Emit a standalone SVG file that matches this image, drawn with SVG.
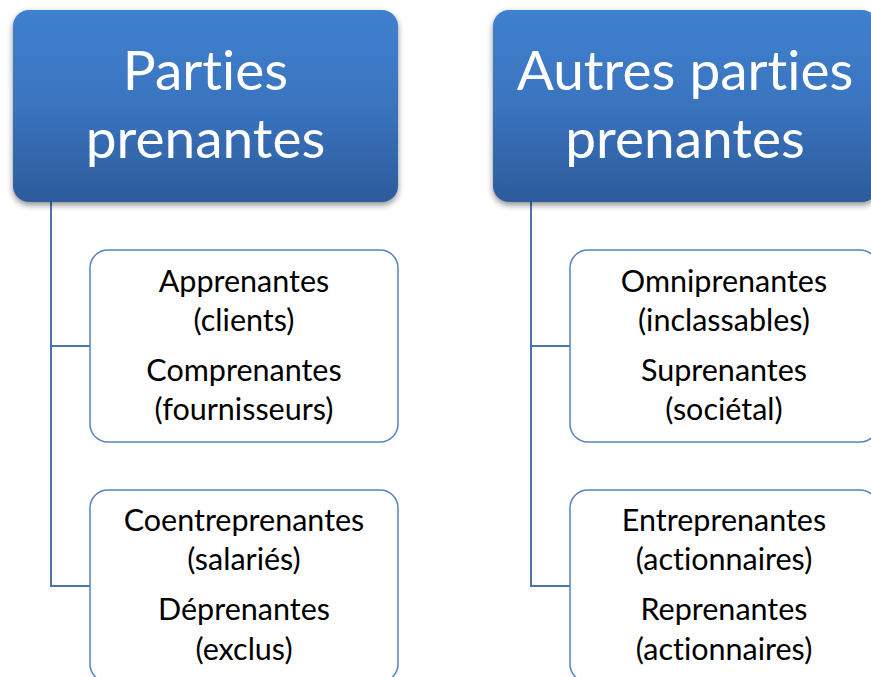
<svg xmlns="http://www.w3.org/2000/svg" width="871" height="677" viewBox="0 0 871 677">
<defs>
<linearGradient id="hg" x1="0" y1="0" x2="0" y2="1">
<stop offset="0" stop-color="#3f80ce"/>
<stop offset="0.5" stop-color="#3a74bf"/>
<stop offset="1" stop-color="#2d5b9b"/>
</linearGradient>
<filter id="sh" x="-10%" y="-10%" width="120%" height="125%">
<feGaussianBlur in="SourceAlpha" stdDeviation="3"/>
<feOffset dx="0" dy="3" result="b"/>
<feComponentTransfer><feFuncA type="linear" slope="0.45"/></feComponentTransfer>
<feMerge><feMergeNode/><feMergeNode in="SourceGraphic"/></feMerge>
</filter>
<style>
text{font-variant-ligatures:none;font-feature-settings:"liga" 0,"clig" 0}
.hdr{fill:url(#hg);filter:url(#sh)}
.ht{font-family:Lato,"Open Sans",sans-serif;font-size:55px;fill:#fff;text-anchor:middle}
.box{fill:#fff;stroke:#5482c0;stroke-width:1.5}
.bt{font-family:Lato,"Open Sans",sans-serif;font-size:30.5px;fill:#000;text-anchor:middle}
.con{fill:none;stroke:#4a74b0;stroke-width:2}
</style>
</defs>
<g id="connectors">
<path class="con" d="M51 202 V586 H90 M51 346 H90"/>
<path class="con" d="M531 202 V586 H570 M531 346 H570"/>
</g>
<g id="h1">
<rect class="hdr" x="13" y="10" width="385" height="192" rx="16"/>
<text class="ht" x="205.5" y="90">Parties</text>
<text class="ht" x="205.5" y="158">prenantes</text>
</g>
<g id="h2">
<rect class="hdr" x="493" y="10" width="385" height="192" rx="16"/>
<text class="ht" x="685" y="90">Autres parties</text>
<text class="ht" x="685" y="158">prenantes</text>
</g>
<g id="b1">
<rect class="box" x="90" y="250" width="308" height="192" rx="18"/>
<text class="bt" x="244" y="292">Apprenantes</text>
<text class="bt" x="244" y="331">(clients)</text>
<text class="bt" x="244" y="381">Comprenantes</text>
<text class="bt" x="244" y="420">(fournisseurs)</text>
</g>
<g id="b2">
<rect class="box" x="90" y="490" width="308" height="192" rx="18"/>
<text class="bt" x="244" y="531">Coentreprenantes</text>
<text class="bt" x="244" y="570">(salariés)</text>
<text class="bt" x="244" y="620">Déprenantes</text>
<text class="bt" x="244" y="660">(exclus)</text>
</g>
<g id="b3">
<rect class="box" x="570" y="250" width="308" height="192" rx="18"/>
<text class="bt" x="724" y="292">Omniprenantes</text>
<text class="bt" x="724" y="331">(inclassables)</text>
<text class="bt" x="724" y="381">Suprenantes</text>
<text class="bt" x="724" y="420">(sociétal)</text>
</g>
<g id="b4">
<rect class="box" x="570" y="490" width="308" height="192" rx="18"/>
<text class="bt" x="724" y="531">Entreprenantes</text>
<text class="bt" x="724" y="570">(actionnaires)</text>
<text class="bt" x="724" y="620">Reprenantes</text>
<text class="bt" x="724" y="660">(actionnaires)</text>
</g>
</svg>
